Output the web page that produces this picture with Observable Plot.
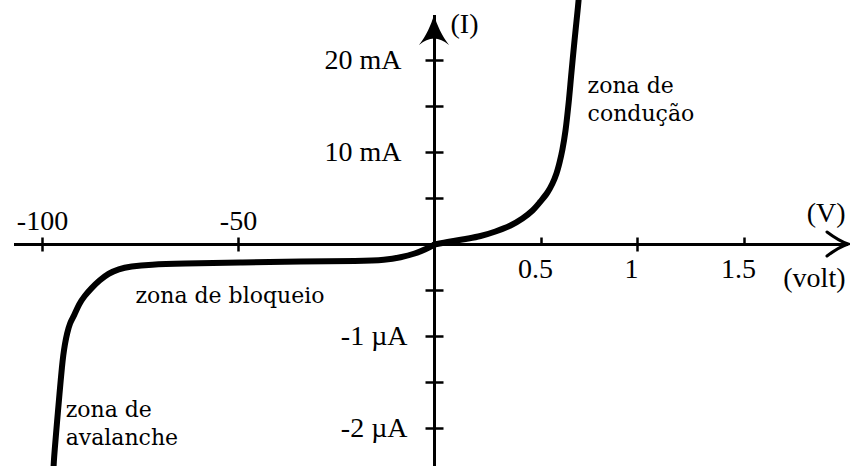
<!DOCTYPE html>
<html>
<head>
<meta charset="utf-8">
<script src="https://cdn.jsdelivr.net/npm/d3@7"></script>
<script src="https://cdn.jsdelivr.net/npm/@observablehq/plot@0.6"></script>
<style>
  body { margin: 0; background: #fff; }
</style>
</head>
<body>
<div id="chart"></div>
<script>
// Diode I–V characteristic.
// Forward branch: voltage (V) and current (mA)
const fwdVolts     = [0, 0.075, 0.145, 0.215, 0.285, 0.355, 0.411, 0.458, 0.495, 0.531, 0.557, 0.578, 0.594, 0.609, 0.625, 0.641, 0.656, 0.672, 0.688, 0.693];
const fwdMilliamps = [0, 0.33, 0.60, 0.92, 1.41, 2.07, 2.83, 3.70, 4.67, 5.65, 6.63, 7.72, 8.91, 10.33, 12.39, 15.33, 18.70, 22.17, 25.43, 26.52];

// Reverse branch: voltage (V) and current (µA)
const revVolts     = [0, -2.3, -4.85, -8.67, -12.5, -18.9, -34.2, -49.5, -64.8, -72.4, -77.6, -80.6, -83.2, -85.5, -87.5, -89.3, -90.69, -91.96, -92.98, -93.75, -94.31, -94.72, -95.05, -95.36, -95.66, -95.97, -96.28, -96.58, -96.86, -97.12, -97.3];
const revMicroamps = [0, -0.054, -0.098, -0.141, -0.168, -0.179, -0.185, -0.196, -0.207, -0.217, -0.239, -0.266, -0.315, -0.391, -0.473, -0.56, -0.647, -0.777, -0.848, -0.967, -1.087, -1.207, -1.337, -1.478, -1.62, -1.772, -1.924, -2.076, -2.217, -2.359, -2.522];

// Axis ticks (positive current in mA, negative current in µA)
const yTicks = [5, 10, 15, 20, -0.5, -1, -1.5, -2];
const yLabelValuesMilli = [20, 10];
const yLabelsMilli = ["20 mA", "10 mA"];
const yLabelValuesMicro = [-1, -2];
const yLabelsMicro = ["-1 µA", "-2 µA"];

const xTicksCross = [-100, -50, 1];
const xTicksUp = [0.5, 1.5];
const xLabelValuesNeg = [-100, -50];
const xLabelsNeg = ["-100", "-50"];
const xLabelValuesPos = [0.5, 1, 1.5];
const xLabelsPos = ["0.5", "1", "1.5"];

// Region annotations
const zoneLabels   = ["zona de\ncondução", "zona de bloqueio", "zona de\navalanche"];
const zoneVolts    = [0.74, -76.3, -94.1];
const zoneCurrents = [18.65, -0.417, -1.66];

const forward = fwdVolts.map((v, i) => ({v, i: fwdMilliamps[i]}));
const reverse = revVolts.map((v, i) => ({v, i: revMicroamps[i]}));

const serif = "Liberation Serif, Times New Roman, serif";
const zero = () => 0;

// tick glyphs drawn as dot symbols
const radius = (size) => Math.sqrt(size / Math.PI);
const hTick = {draw(ctx, size) { const r = radius(size); ctx.moveTo(-r, 0); ctx.lineTo(r, 0); }};
const vTick = {draw(ctx, size) { const r = radius(size); ctx.moveTo(0, -r); ctx.lineTo(0, r); }};
const upTick = {draw(ctx, size) { const r = radius(size); ctx.moveTo(0, -r); ctx.lineTo(0, 0); }};

// arrowheads at the ends of both axes
function arrowheads(index, {x, y}, values, dims) {
  const g = d3.create("svg:g");
  const x0 = x(0), y0 = y(0);
  const top = dims.marginTop;
  const right = dims.width - dims.marginRight;
  g.append("path")
    .attr("d", `M${x0},${top} C${x0 - 3},${top + 10} ${x0 - 8},${top + 21} ${x0 - 15},${top + 30} Q${x0},${top + 17} ${x0 + 15},${top + 30} C${x0 + 8},${top + 21} ${x0 + 3},${top + 10} ${x0},${top} Z`)
    .attr("fill", "black");
  g.append("path")
    .attr("d", `M${right - 21},${y0 - 12} Q${right - 9},${y0 - 3} ${right},${y0} Q${right - 9},${y0 + 3} ${right - 21},${y0 + 12}`)
    .attr("fill", "none")
    .attr("stroke", "black")
    .attr("stroke-width", 3)
    .attr("stroke-linecap", "round");
  return g.node();
}

const chart = Plot.plot({
  width: 850,
  height: 466,
  marginLeft: 14,
  marginRight: 2,
  marginTop: 15,
  marginBottom: 0,
  // piecewise-linear scales: the negative and positive halves use different units
  x: {type: "linear", domain: [-100, 0, 0.5, 1, 1.5], range: [42, 434, 541, 637, 744], axis: null},
  y: {type: "linear", domain: [-2, 0, 20], range: [428, 244, 60], axis: null},
  marks: [
    // axes
    Plot.ruleY([0], {stroke: "black", strokeWidth: 3}),
    Plot.ruleX([0], {stroke: "black", strokeWidth: 3}),
    arrowheads,
    // ticks
    Plot.dot(yTicks, {x: zero, y: d => d, symbol: hTick, r: 9, fill: "none", stroke: "black", strokeWidth: 2.5}),
    Plot.dot(xTicksCross, {x: d => d, y: zero, symbol: vTick, r: 7, fill: "none", stroke: "black", strokeWidth: 2.5}),
    Plot.dot(xTicksUp, {x: d => d, y: zero, symbol: upTick, r: 7, fill: "none", stroke: "black", strokeWidth: 2.5}),
    // tick labels
    Plot.text(yLabelValuesMilli, {x: zero, y: d => d, text: (d, i) => yLabelsMilli[i], textAnchor: "end", dx: -33, fontFamily: serif, fontSize: 28, fill: "black"}),
    Plot.text(yLabelValuesMicro, {x: zero, y: d => d, text: (d, i) => yLabelsMicro[i], textAnchor: "end", dx: -27, fontFamily: serif, fontSize: 28, fill: "black"}),
    Plot.text(xLabelValuesNeg, {x: d => d, y: zero, text: (d, i) => xLabelsNeg[i], dy: -23, fontFamily: serif, fontSize: 28, fill: "black"}),
    Plot.text(xLabelValuesPos, {x: d => d, y: zero, text: (d, i) => xLabelsPos[i], dx: -6, dy: 25, fontFamily: serif, fontSize: 28, fill: "black"}),
    // axis names
    Plot.text(["(I)"], {x: zero, frameAnchor: "top", lineAnchor: "top", textAnchor: "start", dx: 16, dy: -2, fontFamily: serif, fontSize: 28, fill: "black"}),
    Plot.text(["(V)"], {y: zero, frameAnchor: "right", textAnchor: "end", dx: -3, dy: -31, fontFamily: serif, fontSize: 28, fill: "black"}),
    Plot.text(["(volt)"], {y: zero, frameAnchor: "right", textAnchor: "end", dx: -3, dy: 34, fontFamily: serif, fontSize: 28, fill: "black"}),
    // characteristic curve
    Plot.line(reverse, {x: "v", y: "i", curve: "basis", stroke: "black", strokeWidth: 6, strokeLinecap: "round", strokeLinejoin: "round"}),
    Plot.line(forward, {x: "v", y: "i", curve: "catmull-rom", stroke: "black", strokeWidth: 6, strokeLinecap: "round", strokeLinejoin: "round"}),
    // region annotations
    Plot.text(zoneLabels, {x: (d, i) => zoneVolts[i], y: (d, i) => zoneCurrents[i], text: d => d, textAnchor: "start", lineAnchor: "top", lineHeight: 1.27, fontFamily: "DejaVu Serif", fontSize: 22, fill: "black"})
  ]
});

document.getElementById("chart").appendChild(chart);
</script>
</body>
</html>
